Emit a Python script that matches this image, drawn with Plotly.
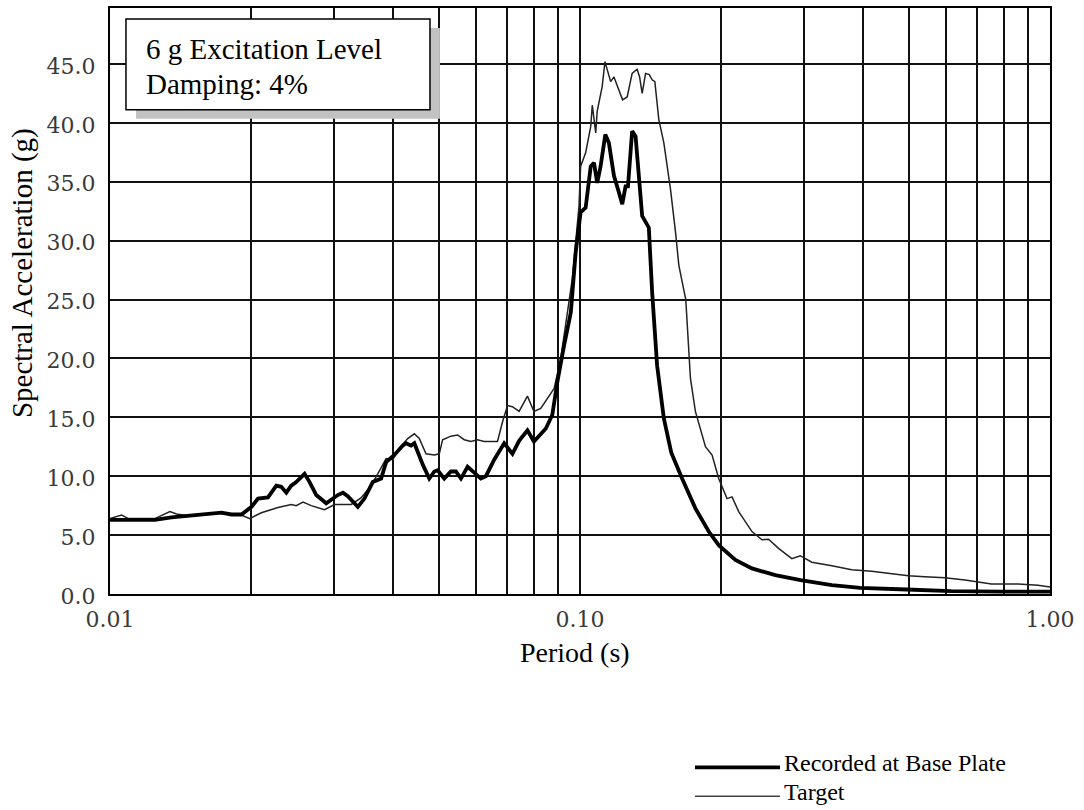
import plotly.graph_objects as go

# ---- data ----
period_recorded = [0.0100, 0.01246, 0.01352, 0.01565, 0.01726, 0.01813, 0.01904, 0.0200, 0.02065,
                   0.02168, 0.02259, 0.02314, 0.02372, 0.0243, 0.0249, 0.02594, 0.02659, 0.02747,
                   0.02884, 0.03053, 0.0313, 0.03206, 0.03368, 0.03478, 0.03623, 0.03775, 0.03868,
                   0.04027, 0.04196, 0.04266, 0.0437, 0.04442, 0.04626, 0.04779, 0.04898, 0.0498,
                   0.05143, 0.05313, 0.05445, 0.05581, 0.05765, 0.05957, 0.06152, 0.06306, 0.06568,
                   0.06897, 0.07183, 0.0742, 0.0773, 0.0798, 0.0846, 0.0873, 0.0895, 0.0925, 0.0956,
                   0.0979, 0.1003, 0.1028, 0.1054, 0.1071, 0.1088, 0.1106, 0.1132, 0.1152, 0.1181,
                   0.1210, 0.1230, 0.1250, 0.1265, 0.1291, 0.1313, 0.1356, 0.1401, 0.1424, 0.1459,
                   0.1508, 0.1564, 0.1649, 0.1760, 0.1879, 0.1973, 0.2141, 0.2322, 0.2603, 0.2946,
                   0.3434, 0.3945, 0.4954, 0.6163, 0.7870, 1.0]
accel_recorded = [6.3, 6.3, 6.5, 6.7, 6.9, 6.75, 6.75, 7.4, 8.1,
                  8.2, 9.2, 9.1, 8.6, 9.2, 9.5, 10.2, 9.5, 8.4,
                  7.7, 8.4, 8.6, 8.3, 7.4, 8.1, 9.5, 9.8, 11.2,
                  11.8, 12.6, 12.8, 12.6, 12.8, 11.0, 9.8, 10.4, 10.5,
                  9.8, 10.4, 10.4, 9.8, 10.8, 10.3, 9.8, 10.0, 11.4,
                  12.8, 11.9, 13.0, 13.9, 12.95, 14.05, 15.2, 18.0, 21.1, 23.9,
                  29.0, 32.4, 32.8, 36.3, 36.6, 34.9, 36.3, 39.0, 38.3, 35.5,
                  34.1, 33.1, 34.6, 34.6, 39.3, 38.85, 32.1, 31.1, 25.6, 19.4,
                  14.9, 12.0, 9.8, 7.27, 5.3, 4.15, 2.9, 2.17, 1.6, 1.18,
                  0.75, 0.52, 0.38, 0.24, 0.2, 0.2]

period_target = [0.0100, 0.01059, 0.01094, 0.01246, 0.01341, 0.01385, 0.01491, 0.0167, 0.01813,
                 0.01904, 0.01983, 0.02099, 0.02278, 0.0243, 0.0249, 0.02574, 0.0268, 0.0286,
                 0.03004, 0.0326, 0.0342, 0.03594, 0.03713, 0.03868, 0.03996, 0.04128, 0.043,
                 0.04442, 0.0455, 0.04703, 0.04898, 0.05019, 0.05101, 0.05313, 0.05489, 0.05672,
                 0.0586, 0.06053, 0.06252, 0.06675, 0.0684, 0.0701, 0.0718, 0.0742, 0.0773,
                 0.0798, 0.0825, 0.0852, 0.0881, 0.0910, 0.0940, 0.0963, 0.0995, 0.1003, 0.1028,
                 0.1054, 0.1062, 0.1080, 0.1088, 0.1115, 0.1130, 0.1162, 0.1181, 0.1210, 0.1232,
                 0.1260, 0.1291, 0.1323, 0.1339, 0.1356, 0.1379, 0.1404, 0.1424, 0.1443, 0.1471,
                 0.1508, 0.1558, 0.1597, 0.1623, 0.1679, 0.1718, 0.1760, 0.1849, 0.1910, 0.1973,
                 0.2055, 0.2106, 0.2176, 0.2322, 0.2439, 0.2519, 0.2645, 0.2823, 0.2942, 0.3113,
                 0.3434, 0.3786, 0.4174, 0.4604, 0.4995, 0.5420, 0.5976, 0.6590, 0.7033, 0.7505,
                 0.8551, 0.9429, 1.0]
accel_target = [6.4, 6.7, 6.4, 6.4, 7.0, 6.8, 6.6, 6.9, 6.75,
                6.7, 6.4, 6.9, 7.35, 7.6, 7.5, 7.8, 7.5, 7.15,
                7.6, 7.6, 8.15, 9.2, 10.2, 11.5, 11.4, 12.4, 13.2,
                13.6, 13.2, 11.9, 11.8, 11.9, 13.1, 13.4, 13.5, 13.1,
                12.95, 13.1, 12.95, 12.95, 14.6, 16.0, 15.9, 15.5, 16.8,
                15.5, 15.75, 16.6, 17.45, 20.0, 23.65, 26.75, 32.9, 36.3, 37.45,
                39.7, 41.5, 39.15, 41.0, 43.1, 45.2, 43.5, 43.9, 42.8, 41.95,
                42.2, 44.2, 44.55, 43.9, 42.5, 44.2, 44.1, 43.65, 43.5, 40.3,
                38.3, 34.35, 30.7, 27.9, 25.0, 18.3, 15.5, 12.5, 11.8, 9.8,
                8.1, 8.25, 7.0, 5.3, 4.6, 4.65, 3.87, 3.0, 3.25, 2.7,
                2.4, 2.05, 1.94, 1.75, 1.55, 1.46, 1.38, 1.18, 0.98, 0.84,
                0.84, 0.75, 0.6]

x_tickvals = [0.01, 0.02, 0.03, 0.04, 0.05, 0.06, 0.07, 0.08, 0.09,
              0.1, 0.2, 0.3, 0.4, 0.5, 0.6, 0.7, 0.8, 0.9, 1.0]
x_ticktext = ["0.01", "", "", "", "", "", "", "", "",
              "0.10", "", "", "", "", "", "", "", "", "1.00"]
y_tickvals = [0, 5, 10, 15, 20, 25, 30, 35, 40, 45]
y_ticktext = ["0.0", "5.0", "10.0", "15.0", "20.0", "25.0", "30.0", "35.0", "40.0", "45.0"]

series_names = ["Recorded at Base Plate", "Target"]
box_lines = ["6 g Excitation Level", "Damping: 4%"]

SERIF = "Liberation Serif, Times New Roman, serif"

fig = go.Figure()
fig.add_trace(go.Scatter(x=period_target, y=accel_target, mode="lines", name=series_names[1],
                         line=dict(color="#222222", width=1.5), showlegend=False))
fig.add_trace(go.Scatter(x=period_recorded, y=accel_recorded, mode="lines", name=series_names[0],
                         line=dict(color="#000000", width=3.8), showlegend=False))

fig.update_layout(
    width=1084, height=810,
    margin=dict(l=110, r=34, t=6, b=216),
    paper_bgcolor="white", plot_bgcolor="white",
    xaxis=dict(type="log", range=[-2, 0], tickvals=x_tickvals, ticktext=x_ticktext,
               showgrid=True, gridcolor="#111111", gridwidth=1.7, ticks="",
               showline=True, linecolor="#000000", linewidth=2, mirror=True,
               zeroline=False, ticklabelstandoff=5,
               tickfont=dict(family="DejaVu Serif", size=22, color="#3a3a3a")),
    yaxis=dict(range=[0, 49.75], tickvals=y_tickvals, ticktext=y_ticktext,
               showgrid=True, gridcolor="#111111", gridwidth=1.7, ticks="",
               showline=True, linecolor="#000000", linewidth=2, mirror=True,
               zeroline=False, ticklabelstandoff=8, ticklabelshift=2,
               tickfont=dict(family="DejaVu Serif", size=22, color="#3a3a3a")),
)

# annotation box with shadow
fig.add_shape(type="rect", xref="paper", yref="paper", x0=0.0277, x1=0.351, y0=0.8112, y1=0.966,
              fillcolor="#c2c2c2", line=dict(width=0), layer="above")
fig.add_shape(type="rect", xref="paper", yref="paper", x0=0.017, x1=0.3404, y0=0.8265, y1=0.9813,
              fillcolor="white", line=dict(color="black", width=1.5), layer="above")
fig.add_annotation(xref="paper", yref="paper", x=0.0362, y=0.9303, text=box_lines[0],
                   showarrow=False, xanchor="left", yanchor="middle",
                   font=dict(family=SERIF, size=29, color="black"))
fig.add_annotation(xref="paper", yref="paper", x=0.0362, y=0.8707, text=box_lines[1],
                   showarrow=False, xanchor="left", yanchor="middle",
                   font=dict(family=SERIF, size=29, color="black"))

# axis titles
fig.add_annotation(xref="paper", yref="paper", x=0.4947, y=-0.1005, text="Period (s)",
                   showarrow=False, xanchor="center", yanchor="middle",
                   font=dict(family=SERIF, size=28, color="black"))
fig.add_annotation(xref="paper", yref="paper", x=-0.0936, y=0.5476, text="Spectral Acceleration (g)",
                   showarrow=False, textangle=-90, xanchor="center", yanchor="middle",
                   font=dict(family=SERIF, size=29, color="black"))

# legend (drawn manually)
fig.add_shape(type="line", xref="paper", yref="paper", x0=0.6223, x1=0.7128, y0=-0.2959, y1=-0.2959,
              line=dict(color="black", width=3.6))
fig.add_shape(type="line", xref="paper", yref="paper", x0=0.6223, x1=0.7128, y0=-0.3452, y1=-0.3452,
              line=dict(color="#444444", width=1.6))
fig.add_annotation(xref="paper", yref="paper", x=0.7149, y=-0.2891, text=series_names[0],
                   showarrow=False, xanchor="left", yanchor="middle",
                   font=dict(family=SERIF, size=24, color="black"))
fig.add_annotation(xref="paper", yref="paper", x=0.7149, y=-0.3384, text=series_names[1],
                   showarrow=False, xanchor="left", yanchor="middle",
                   font=dict(family=SERIF, size=24, color="black"))

fig.write_html("out.html")
